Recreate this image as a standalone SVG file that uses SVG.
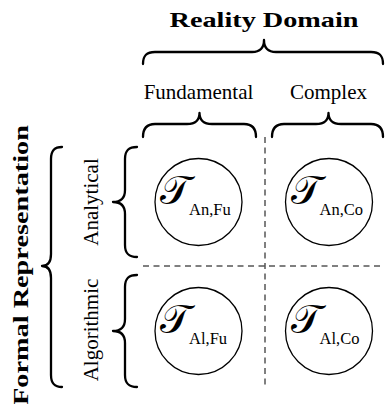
<svg xmlns="http://www.w3.org/2000/svg" width="385" height="404" viewBox="0 0 385 404">
<defs>
<style>
.lbl{font-family:"Liberation Serif","Times New Roman",serif;font-size:21px;fill:#000}
.bold{font-weight:bold}
.brace{fill:none;stroke:#000;stroke-width:2.3;stroke-linecap:round;stroke-linejoin:round}
.dash{fill:none;stroke:#000;stroke-width:1;stroke-dasharray:6 4.5}
.node circle{fill:#fff;stroke:#000;stroke-width:1.3}
.T{font-family:"DejaVu Serif","DejaVu Sans","Liberation Serif",serif;font-size:40px}
.sub{font-family:"Liberation Serif","Times New Roman",serif;font-size:16.5px}
</style>
</defs>
<rect width="385" height="404" fill="#fff"/>
<g id="labels">
<text class="lbl bold" x="264" y="27" text-anchor="middle" textLength="189" lengthAdjust="spacingAndGlyphs">Reality Domain</text>
<text class="lbl" x="198.5" y="99" text-anchor="middle">Fundamental</text>
<text class="lbl" x="328.5" y="99" text-anchor="middle">Complex</text>
<text class="lbl" transform="translate(98,202) rotate(-90)" text-anchor="middle">Analytical</text>
<text class="lbl" transform="translate(98,330) rotate(-90)" text-anchor="middle">Algorithmic</text>
<text class="lbl bold" transform="translate(27.5,265) rotate(-90)" text-anchor="middle" textLength="280" lengthAdjust="spacingAndGlyphs">Formal Representation</text>
</g>
<g id="braces">
<path class="brace" d="M143,64 C143,56 146,52 155,52 L252,52 C260,52 264,48 264,40 C264,48 268,52 276,52 L371,52 C380,52 383,56 383,64"/>
<path class="brace" d="M143,137 C143,129 146,124 155,124 L187,124 C195,124 199.5,120 199.5,113 C199.5,120 204,124 212,124 L244,124 C253,124 256,129 256,137"/>
<path class="brace" d="M272,137 C272,129 275,124 284,124 L316,124 C324,124 328.5,120 328.5,113 C328.5,120 333,124 341,124 L371,124 C380,124 383,129 383,137"/>
<path class="brace" d="M137,147 C129,147 125,150 125,159 L125,190 C125,198 121,202 113,202 C121,202 125,206 125,214 L125,245 C125,254 129,257 137,257"/>
<path class="brace" d="M137,275 C129,275 125,278 125,287 L125,319 C125,327 121,331 113,331 C121,331 125,335 125,343 L125,375 C125,384 129,387 137,387"/>
<path class="brace" d="M62,147 C55,147 51,150 51,159 L51,254 C51,262 48,266 42,266 C48,266 51,270 51,278 L51,375 C51,384 55,387 62,387"/>
</g>
<g id="connectors">
<line class="dash" x1="265" y1="137" x2="265" y2="389"/>
<line class="dash" x1="143" y1="266" x2="383" y2="266"/>
</g>
<g id="n-an-fu" class="node">
<circle cx="198.5" cy="202" r="43.5"/>
<text x="160" y="204"><tspan class="T">𝒯</tspan><tspan class="sub" dx="-2" dy="11">An,Fu</tspan></text>
</g>
<g id="n-an-co" class="node">
<circle cx="329" cy="202" r="43.5"/>
<text x="290.5" y="204"><tspan class="T">𝒯</tspan><tspan class="sub" dx="-2" dy="11">An,Co</tspan></text>
</g>
<g id="n-al-fu" class="node">
<circle cx="198.5" cy="331" r="43.5"/>
<text x="160" y="333"><tspan class="T">𝒯</tspan><tspan class="sub" dx="-2" dy="11">Al,Fu</tspan></text>
</g>
<g id="n-al-co" class="node">
<circle cx="329" cy="331" r="43.5"/>
<text x="290.5" y="333"><tspan class="T">𝒯</tspan><tspan class="sub" dx="-2" dy="11">Al,Co</tspan></text>
</g>
</svg>
